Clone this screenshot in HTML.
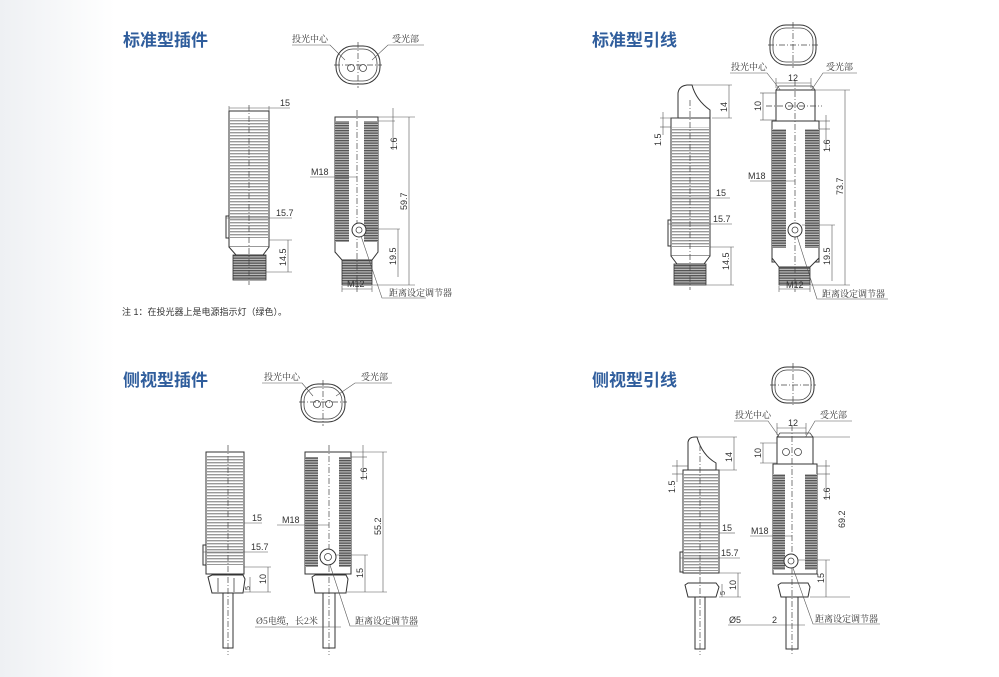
<!DOCTYPE html>
<html><head><meta charset="utf-8"><style>
html,body{margin:0;padding:0;background:#fff}
svg{display:block}
.t{font-family:"Liberation Sans","Noto Sans CJK SC",sans-serif;font-size:17px;font-weight:bold;fill:#2f5d9c}
.s{font-family:"Liberation Sans","Noto Sans CJK SC",sans-serif;font-size:9px;fill:#333}
.c{font-family:"Noto Serif CJK SC","Noto Sans CJK SC",serif;font-size:9px;fill:#333}
.l{stroke:#444;stroke-width:.8;fill:none}
.b{stroke:#333;stroke-width:1;fill:#fff}
.d{stroke:#555;stroke-width:.6;fill:none}
.cl{stroke:#444;stroke-width:.7;stroke-dasharray:6 2 1 2;fill:none}
</style></head><body>
<svg width="999" height="677" viewBox="0 0 999 677" xmlns="http://www.w3.org/2000/svg">
<defs>
<linearGradient id="bg" x1="0" x2="1"><stop offset="0" stop-color="#eef0f3"/><stop offset="1" stop-color="#fff"/></linearGradient>
<pattern id="th" width="4" height="3" patternUnits="userSpaceOnUse"><rect width="4" height="3" fill="#fff"/><rect y="0" width="4" height="1.4" fill="#999"/></pattern>
<pattern id="tk" width="4" height="2.5" patternUnits="userSpaceOnUse"><rect width="4" height="2.5" fill="#bbb"/><rect width="4" height="1.3" fill="#555"/></pattern>
</defs>
<rect width="999" height="677" fill="#fff"/>
<rect width="115" height="677" fill="url(#bg)"/>

<!-- Titles -->
<text class="t" x="123" y="46">标准型插件</text>
<text class="t" x="592" y="46">标准型引线</text>
<text class="t" x="123" y="386">侧视型插件</text>
<text class="t" x="592" y="386">侧视型引线</text>
<text class="c" x="122" y="315" style="font-family:'Liberation Sans','Noto Sans CJK SC',sans-serif">注 1：在投光器上是电源指示灯（绿色）。</text>

<!-- ===== Panel 1 ===== -->
<!-- top view -->
<rect x="336" y="46" width="44" height="38" rx="17" class="b" stroke-width="1.6"/>
<rect x="339" y="49" width="38" height="32" rx="14" class="l"/>
<line x1="334" y1="65" x2="382" y2="65" class="cl"/><line x1="358" y1="42" x2="358" y2="88" class="cl"/>
<circle cx="351" cy="68" r="3.5" class="l"/><circle cx="363" cy="68" r="3.5" class="l"/>
<text class="c" x="292" y="42">投光中心</text><text class="c" x="392" y="42">受光部</text>
<polyline points="292,45 330,45 345,60" class="d"/><polyline points="424,45 388,45 372,60" class="d"/>
<!-- left view -->
<rect x="229" y="111" width="40" height="136" class="b"/>
<rect x="230" y="118" width="38" height="120" fill="url(#th)"/>
<rect x="226" y="216" width="3" height="22" class="b"/>
<path d="M229,247 L236,255 L263,255 L269,247" class="b"/>
<rect x="233" y="255" width="33" height="25" fill="url(#tk)" stroke="#333" stroke-width=".8"/>
<line x1="249" y1="105" x2="249" y2="285" class="cl"/>
<line x1="229" y1="106" x2="229" y2="111" class="d"/><line x1="269" y1="106" x2="269" y2="111" class="d"/>
<line x1="229" y1="108" x2="290" y2="108" class="d"/><text class="s" x="280" y="106">15</text>
<line x1="226" y1="218" x2="292" y2="218" class="d"/><text class="s" x="276" y="216">15.7</text>
<line x1="269" y1="240" x2="292" y2="240" class="d"/><line x1="266" y1="272" x2="292" y2="272" class="d"/>
<line x1="288" y1="240" x2="288" y2="272" class="d"/><text class="s" transform="translate(286,266) rotate(-90)">14.5</text>
<!-- right view -->
<rect x="335" y="117" width="43" height="135" class="b"/>
<rect x="335" y="121" width="14" height="121" fill="url(#tk)"/>
<rect x="364" y="121" width="14" height="121" fill="url(#tk)"/>
<path d="M335,242 L335,252 L342,260 L372,260 L378,252 L378,242" class="b"/>
<rect x="342" y="260" width="30" height="25" fill="url(#tk)" stroke="#333" stroke-width=".8"/>
<line x1="357" y1="110" x2="357" y2="292" class="cl"/>
<circle cx="359" cy="230" r="7" class="b"/><circle cx="359" cy="230" r="3" class="l"/>
<line x1="310" y1="177" x2="357" y2="177" class="d"/><text class="s" x="311" y="175">M18</text>
<line x1="378" y1="117" x2="415" y2="117" class="d"/><line x1="372" y1="285" x2="415" y2="285" class="d"/>
<line x1="409" y1="117" x2="409" y2="285" class="d"/><text class="s" transform="translate(407,210) rotate(-90)">59.7</text>
<line x1="378" y1="121" x2="395" y2="121" class="d"/><line x1="393" y1="108" x2="393" y2="150" class="d"/><text class="s" transform="translate(397,150) rotate(-90)">1.6</text>
<line x1="366" y1="229" x2="400" y2="229" class="d"/><line x1="398" y1="229" x2="398" y2="277" class="d"/><text class="s" transform="translate(396,265) rotate(-90)">19.5</text>
<line x1="342" y1="286" x2="342" y2="292" class="d"/><line x1="372" y1="286" x2="372" y2="292" class="d"/>
<line x1="342" y1="289" x2="372" y2="289" class="d"/><text class="s" x="347" y="287">M12</text>
<polyline points="361,236 382,298 426,298" class="d"/><text class="c" x="389" y="296">距离设定调节器</text>

<!-- ===== Panel 2 ===== -->
<rect x="770" y="25" width="46" height="40" rx="16" class="b" stroke-width="1.6"/>
<rect x="773" y="28" width="40" height="34" rx="13" class="l"/>
<line x1="768" y1="45" x2="818" y2="45" class="cl"/><line x1="793" y1="22" x2="793" y2="68" class="cl"/>
<text class="c" x="731" y="70">投光中心</text><text class="c" x="826" y="70">受光部</text>
<polyline points="730,73 767,73 782,92" class="d"/><polyline points="857,73 823,73 810,92" class="d"/>
<!-- left view -->
<path d="M678,118 L678,93 Q679,86 687,85 L692,85 Q696,100 710,110 L710,118 Z" class="b"/>
<rect x="671" y="118" width="39" height="138" class="b"/>
<rect x="672" y="127" width="37" height="120" fill="url(#th)"/>
<rect x="668" y="220" width="3" height="26" class="b"/>
<path d="M671,256 L677,264 L704,264 L710,256" class="b"/>
<rect x="674" y="264" width="32" height="21" fill="url(#tk)" stroke="#333" stroke-width=".8"/>
<line x1="690" y1="100" x2="690" y2="290" class="cl"/>
<line x1="692" y1="85" x2="732" y2="85" class="d"/><line x1="712" y1="118" x2="732" y2="118" class="d"/>
<line x1="729" y1="85" x2="729" y2="118" class="d"/><text class="s" transform="translate(727,112) rotate(-90)">14</text>
<line x1="660" y1="118" x2="678" y2="118" class="d"/><line x1="660" y1="127" x2="671" y2="127" class="d"/>
<line x1="663" y1="112" x2="663" y2="135" class="d"/><text class="s" transform="translate(661,146) rotate(-90)">1.5</text>
<line x1="671" y1="198" x2="730" y2="198" class="d"/><text class="s" x="716" y="196">15</text>
<line x1="668" y1="224" x2="732" y2="224" class="d"/><text class="s" x="713" y="222">15.7</text>
<line x1="710" y1="247" x2="734" y2="247" class="d"/><line x1="706" y1="285" x2="734" y2="285" class="d"/>
<line x1="731" y1="247" x2="731" y2="285" class="d"/><text class="s" transform="translate(729,270) rotate(-90)">14.5</text>
<!-- right view -->
<rect x="776" y="90" width="39" height="31" class="b"/>
<path d="M776,90 L779,86 L812,86 L815,90" class="l"/>
<circle cx="789" cy="106" r="3.5" class="l"/><circle cx="801" cy="106" r="3.5" class="l"/>
<rect x="772" y="121" width="47" height="141" class="b"/>
<rect x="772" y="129" width="14" height="119" fill="url(#tk)"/>
<rect x="805" y="129" width="14" height="119" fill="url(#tk)"/>
<path d="M772,248 L772,258 L779,267 L810,267 L819,258 L819,248" class="b"/>
<rect x="779" y="267" width="31" height="18" fill="url(#tk)" stroke="#333" stroke-width=".8"/>
<line x1="795" y1="80" x2="795" y2="292" class="cl"/>
<line x1="766" y1="106" x2="822" y2="106" class="cl"/>
<circle cx="795" cy="230" r="7" class="b"/><circle cx="795" cy="230" r="3" class="l"/>
<line x1="750" y1="181" x2="795" y2="181" class="d"/><text class="s" x="748" y="179">M18</text>
<line x1="776" y1="78" x2="776" y2="88" class="d"/><line x1="811" y1="78" x2="811" y2="88" class="d"/>
<line x1="776" y1="83" x2="811" y2="83" class="d"/><text class="s" x="788" y="81">12</text>
<line x1="760" y1="93" x2="776" y2="93" class="d"/><line x1="760" y1="120" x2="776" y2="120" class="d"/>
<line x1="763" y1="93" x2="763" y2="120" class="d"/><text class="s" transform="translate(761,111) rotate(-90)">10</text>
<line x1="815" y1="90" x2="850" y2="90" class="d"/><line x1="810" y1="285" x2="850" y2="285" class="d"/>
<line x1="845" y1="90" x2="845" y2="285" class="d"/><text class="s" transform="translate(843,195) rotate(-90)">73.7</text>
<line x1="819" y1="121" x2="830" y2="121" class="d"/><line x1="819" y1="129" x2="830" y2="129" class="d"/>
<line x1="826" y1="115" x2="826" y2="150" class="d"/><text class="s" transform="translate(830,152) rotate(-90)">1.6</text>
<line x1="802" y1="225" x2="835" y2="225" class="d"/><line x1="832" y1="225" x2="832" y2="281" class="d"/><text class="s" transform="translate(830,265) rotate(-90)">19.5</text>
<line x1="779" y1="286" x2="779" y2="292" class="d"/><line x1="810" y1="286" x2="810" y2="292" class="d"/>
<line x1="779" y1="289" x2="810" y2="289" class="d"/><text class="s" x="786" y="288">M12</text>
<polyline points="797,236 817,299 888,299" class="d"/><text class="c" x="822" y="297">距离设定调节器</text>

<!-- ===== Panel 3 ===== -->
<rect x="301" y="384" width="44" height="38" rx="17" class="b" stroke-width="1.6"/>
<rect x="304" y="387" width="38" height="32" rx="14" class="l"/>
<line x1="299" y1="402" x2="347" y2="402" class="cl"/><line x1="323" y1="380" x2="323" y2="426" class="cl"/>
<circle cx="317" cy="404" r="3.5" class="l"/><circle cx="329" cy="404" r="3.5" class="l"/>
<text class="c" x="264" y="380">投光中心</text><text class="c" x="361" y="380">受光部</text>
<polyline points="262,383 302,383 313,396" class="d"/><polyline points="392,383 355,383 336,396" class="d"/>
<!-- left -->
<rect x="206" y="452" width="38" height="122" class="b"/>
<rect x="207" y="456" width="36" height="109" fill="url(#th)"/>
<rect x="203" y="545" width="3" height="20" class="b"/>
<path d="M208,577 L212,575 L243,575 L245,579 L243,593 L212,593 Z" class="b"/>
<line x1="218" y1="578" x2="218" y2="592" class="l"/><line x1="234" y1="578" x2="234" y2="592" class="l"/>
<rect x="223" y="593" width="10" height="55" class="b"/>
<line x1="228" y1="445" x2="228" y2="655" class="cl"/>
<line x1="244" y1="523" x2="262" y2="523" class="d"/><text class="s" x="252" y="521">15</text>
<line x1="203" y1="552" x2="268" y2="552" class="d"/><text class="s" x="251" y="550">15.7</text>
<line x1="244" y1="567" x2="271" y2="567" class="d"/><line x1="244" y1="592" x2="271" y2="592" class="d"/>
<line x1="268" y1="567" x2="268" y2="592" class="d"/><text class="s" transform="translate(266,584) rotate(-90)">10</text>
<line x1="250" y1="577" x2="250" y2="592" class="d"/><text class="s" transform="translate(250,590) rotate(-90)" style="font-size:7px">5</text>
<!-- right -->
<rect x="305" y="452" width="46" height="122" class="b"/>
<rect x="305" y="457" width="13" height="110" fill="url(#tk)"/>
<rect x="339" y="457" width="12" height="110" fill="url(#tk)"/>
<path d="M312,577 L315,575 L346,575 L348,579 L346,593 L315,593 Z" class="b"/>
<rect x="323" y="593" width="12" height="55" class="b"/>
<line x1="329" y1="445" x2="329" y2="655" class="cl"/>
<circle cx="328" cy="557" r="8" class="b"/><circle cx="328" cy="557" r="3.5" class="l"/>
<line x1="277" y1="525" x2="329" y2="525" class="d"/><text class="s" x="282" y="523">M18</text>
<line x1="351" y1="452" x2="387" y2="452" class="d"/><line x1="347" y1="592" x2="387" y2="592" class="d"/>
<line x1="383" y1="452" x2="383" y2="592" class="d"/><text class="s" transform="translate(381,535) rotate(-90)">55.2</text>
<line x1="351" y1="457" x2="367" y2="457" class="d"/><line x1="363" y1="445" x2="363" y2="480" class="d"/><text class="s" transform="translate(367,480) rotate(-90)">1.6</text>
<line x1="336" y1="555" x2="368" y2="555" class="d"/><line x1="365" y1="555" x2="365" y2="592" class="d"/><text class="s" transform="translate(363,578) rotate(-90)">15</text>
<line x1="255" y1="627" x2="341" y2="627" class="d"/><text class="c" x="256" y="624">Ø5电缆，长2米</text>
<polyline points="330,565 350,626 418,626" class="d"/><text class="c" x="355" y="624">距离设定调节器</text>

<!-- ===== Panel 4 ===== -->
<rect x="772" y="367" width="42" height="36" rx="15" class="b" stroke-width="1.6"/>
<rect x="775" y="370" width="36" height="30" rx="12" class="l"/>
<line x1="770" y1="385" x2="816" y2="385" class="cl"/><line x1="793" y1="363" x2="793" y2="407" class="cl"/>
<text class="c" x="735" y="418">投光中心</text><text class="c" x="820" y="418">受光部</text>
<polyline points="734,421 768,421 780,438" class="d"/><polyline points="852,421 815,421 805,438" class="d"/>
<!-- left -->
<path d="M688,470 L688,442 Q689,437 695,437 L697,437 Q702,455 716,463 L716,470 Z" class="b"/>
<rect x="683" y="470" width="36" height="103" class="b"/>
<rect x="684" y="474" width="34" height="97" fill="url(#th)"/>
<rect x="680" y="552" width="3" height="20" class="b"/>
<path d="M685,585 L688,583 L716,583 L719,587 L716,597 L688,597 Z" class="b"/>
<rect x="695" y="597" width="10" height="52" class="b"/>
<line x1="700" y1="445" x2="700" y2="655" class="cl"/>
<line x1="697" y1="437" x2="737" y2="437" class="d"/><line x1="716" y1="470" x2="737" y2="470" class="d"/>
<line x1="734" y1="437" x2="734" y2="470" class="d"/><text class="s" transform="translate(732,462) rotate(-90)">14</text>
<line x1="672" y1="466" x2="688" y2="466" class="d"/><line x1="672" y1="474" x2="683" y2="474" class="d"/>
<line x1="677" y1="460" x2="677" y2="482" class="d"/><text class="s" transform="translate(675,493) rotate(-90)">1.5</text>
<line x1="719" y1="533" x2="735" y2="533" class="d"/><text class="s" x="722" y="531">15</text>
<line x1="680" y1="558" x2="740" y2="558" class="d"/><text class="s" x="721" y="556">15.7</text>
<line x1="719" y1="573" x2="741" y2="573" class="d"/><line x1="719" y1="597" x2="741" y2="597" class="d"/>
<line x1="738" y1="573" x2="738" y2="597" class="d"/><text class="s" transform="translate(736,590) rotate(-90)">10</text>
<line x1="722" y1="584" x2="722" y2="597" class="d"/><text class="s" transform="translate(725,595) rotate(-90)" style="font-size:7px">5</text>
<!-- right -->
<rect x="777" y="437" width="36" height="27" class="b"/>
<path d="M777,437 L780,433 L810,433 L813,437" class="l"/>
<circle cx="786" cy="452" r="3.5" class="l"/><circle cx="798" cy="452" r="3.5" class="l"/>
<rect x="773" y="464" width="44" height="110" class="b"/>
<rect x="773" y="474" width="12" height="96" fill="url(#tk)"/>
<rect x="805" y="474" width="12" height="96" fill="url(#tk)"/>
<path d="M778,585 L781,583 L808,583 L810,587 L808,597 L781,597 Z" class="b"/>
<rect x="786" y="597" width="12" height="52" class="b"/>
<line x1="792" y1="425" x2="792" y2="655" class="cl"/>
<circle cx="791" cy="561" r="7" class="b"/><circle cx="791" cy="561" r="3" class="l"/>
<line x1="750" y1="536" x2="792" y2="536" class="d"/><text class="s" x="751" y="534">M18</text>
<line x1="777" y1="423" x2="777" y2="435" class="d"/><line x1="806" y1="423" x2="806" y2="435" class="d"/>
<line x1="777" y1="428" x2="806" y2="428" class="d"/><text class="s" x="788" y="426">12</text>
<line x1="760" y1="443" x2="777" y2="443" class="d"/><line x1="760" y1="463" x2="777" y2="463" class="d"/>
<line x1="763" y1="443" x2="763" y2="463" class="d"/><text class="s" transform="translate(761,458) rotate(-90)">10</text>
<line x1="813" y1="437" x2="850" y2="437" class="d"/><line x1="810" y1="597" x2="850" y2="597" class="d"/>
<text class="s" transform="translate(845,528) rotate(-90)">69.2</text>
<line x1="817" y1="466" x2="830" y2="466" class="d"/><line x1="817" y1="474" x2="830" y2="474" class="d"/>
<line x1="826" y1="460" x2="826" y2="500" class="d"/><text class="s" transform="translate(830,500) rotate(-90)">1.6</text>
<line x1="798" y1="560" x2="830" y2="560" class="d"/><line x1="826" y1="560" x2="826" y2="597" class="d"/><text class="s" transform="translate(824,583) rotate(-90)">15</text>
<line x1="728" y1="625" x2="805" y2="625" class="d"/><text class="s" x="729" y="623">Ø5</text><text class="s" x="772" y="623">2</text>
<polyline points="793,568 813,624 880,624" class="d"/><text class="c" x="815" y="622">距离设定调节器</text>
</svg>
</body></html>
